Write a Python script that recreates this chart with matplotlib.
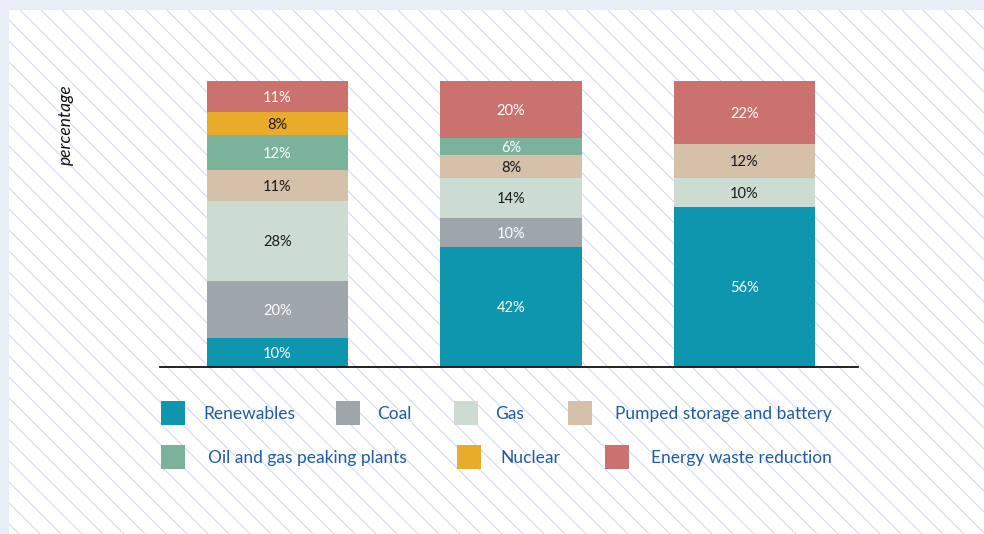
import matplotlib
matplotlib.use("Agg")
import matplotlib.pyplot as plt
from matplotlib.patches import Rectangle
import numpy as np

plt.rcParams['font.family'] = ['Lato', 'DejaVu Sans']

categories = ["Renewables", "Coal", "Gas", "Pumped storage and battery",
              "Oil and gas peaking plants", "Nuclear", "Energy waste reduction"]
colors = ["#0e96ae", "#9ea5ab", "#cddcd3", "#d5c0aa", "#7ab29b", "#e8ab2a", "#cc726e"]
label_colors = ["white", "white", "#1a1a1a", "#1a1a1a", "white", "#1a1a1a", "white"]
scenarios = ["Scenario 1", "Scenario 2", "Scenario 3"]
renewables = [10, 42, 56]
coal = [20, 10, 0]
gas = [28, 14, 10]
pumped = [11, 8, 12]
peaking = [12, 6, 0]
nuclear = [8, 0, 0]
waste = [11, 20, 22]
series = [renewables, coal, gas, pumped, peaking, nuclear, waste]

W, H = 984, 534
fig = plt.figure(figsize=(W / 100, H / 100), dpi=100)
fig.patch.set_facecolor("#e8edf8")

# background panel with diagonal hatching
bg = fig.add_axes([9 / W, 0, (W - 9) / W, (H - 10) / H])
bg.set_facecolor("white")
bg.axis("off")
bg.add_patch(Rectangle((9, 10), W - 9, H - 10, facecolor="white", edgecolor="none", zorder=0))
for x0 in np.arange(818 - 21 * 70, W + 40, 21):
    bg.plot([x0, x0 + 700], [10, 710], color="#d2d8f1", lw=0.75, zorder=1, solid_capstyle="butt")
bg.set_xlim(9, W)
bg.set_ylim(H, 10)

# main axes
left, right, top, bottom = 160, 858, 81, 367
ax = fig.add_axes([left / W, (H - bottom) / H, (right - left) / W, (bottom - top) / H])
ax.patch.set_alpha(0)
x = np.arange(len(scenarios))
width = 0.604
base = np.zeros(len(scenarios))
for vals, col, lc in zip(series, colors, label_colors):
    vals = np.array(vals, dtype=float)
    ax.bar(x, vals, width, bottom=base, color=col, edgecolor="none", zorder=2)
    for xi, v, b in zip(x, vals, base):
        if v > 0:
            ax.text(xi, b + v / 2 - 0.4, f"{int(v)}%", ha="center", va="center",
                    color=lc, fontsize=10.5, zorder=3)
    base += vals
ax.set_xlim(-0.503, 2.486)
ax.set_ylim(0, 100)
for s in ["top", "right", "left"]:
    ax.spines[s].set_visible(False)
ax.spines["bottom"].set_color("#111111")
ax.spines["bottom"].set_linewidth(1.3)
ax.set_xticks([])
ax.set_yticks([])

fig.text(66 / W, 1 - 125 / H, "percentage", rotation=90, ha="center", va="center",
         style="italic", fontsize=12.5, color="#111111")

# legend
legend_pos = [
    (161, 413, 203), (336, 413, 377), (454, 413, 495), (568, 413, 615),
    (161, 457, 208), (457, 457, 500), (605, 457, 651),
]
for (mx, my, tx), cat, col in zip(legend_pos, categories, colors):
    bg.add_patch(Rectangle((mx, my - 12), 24, 24, facecolor=col, edgecolor="none", zorder=3))
    bg.text(tx, my + 1, cat, ha="left", va="center", fontsize=12.5, color="#1f5aa8", zorder=3)

fig.savefig("out.png", dpi=100)
